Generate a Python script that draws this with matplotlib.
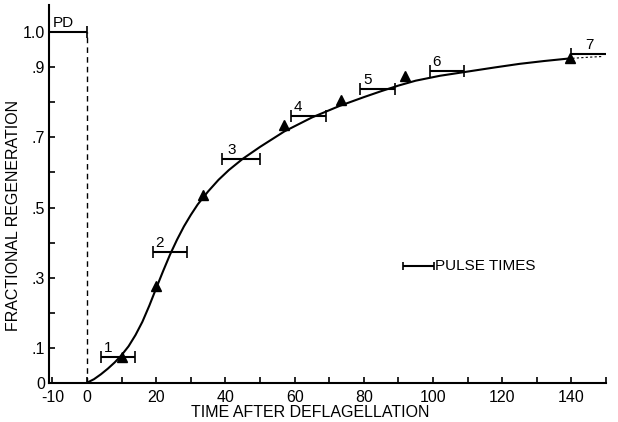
import matplotlib
matplotlib.use('Agg')
from matplotlib import pyplot as plt

plt.rcParams['font.family'] = ['Liberation Sans', 'DejaVu Sans']

# measured regeneration (triangles)
pt_time = [10, 20, 33.5, 57, 73.5, 92, 139.5]
pt_frac = [0.074, 0.276, 0.537, 0.736, 0.808, 0.874, 0.926]

# smooth curve
curve_time = [0, 2, 4, 6, 8, 10, 12, 14, 16, 18, 20, 22, 24, 26, 28, 30, 32, 35,
              38, 41, 45, 50, 57, 65, 73, 80, 85, 90, 95, 102, 110, 118, 125, 132, 139]
curve_frac = [0, 0.010, 0.024, 0.040, 0.058, 0.079, 0.104, 0.136, 0.174, 0.220, 0.270,
              0.319, 0.366, 0.408, 0.446, 0.479, 0.509, 0.546, 0.579, 0.607, 0.639,
              0.673, 0.717, 0.757, 0.790, 0.815, 0.832, 0.848, 0.862, 0.876, 0.888,
              0.900, 0.910, 0.918, 0.925]
extra_time = [139, 145, 149]
extra_frac = [0.925, 0.929, 0.931]

# pulse windows
pulse_labels = ['1', '2', '3', '4', '5', '6', '7']
pulse_start = [4, 19, 39, 59, 79, 99, 140]
pulse_end = [14, 29, 50, 69, 89, 109, 151]
pulse_frac = [0.072, 0.374, 0.639, 0.762, 0.838, 0.889, 0.938]
label_time = [6, 21, 41.7, 60.8, 81.2, 100.9, 145.3]

fig = plt.figure(figsize=(6.18, 4.22), dpi=100)
ax = fig.add_axes([49 / 618, (422 - 382.7) / 422, (606 - 49) / 618, (382.7 - 5) / 422])

ax.plot(curve_time, curve_frac, color='black', linewidth=1.5)
ax.plot(extra_time, extra_frac, color='black', linewidth=0.8, linestyle=(0, (2, 2)))
ax.plot(pt_time, pt_frac, linestyle='none', marker='^', markersize=7.5, color='black')

# pulse bars with end caps
for lab, s, e, f, lx in zip(pulse_labels, pulse_start, pulse_end, pulse_frac, label_time):
    ax.errorbar([(s + e) / 2], [f], xerr=[(e - s) / 2], fmt='none', ecolor='black',
                elinewidth=1.5, capsize=4, capthick=1.2)
    ax.text(lx, f + 0.006, lab, fontsize=11, ha='center', va='bottom')

# pre-deflagellation
ax.errorbar([-5.5], [1.0], xerr=[5.5], fmt='none', ecolor='black', elinewidth=1.5,
            capsize=4, capthick=1.2)
ax.text(-6.8, 1.006, 'PD', fontsize=11, ha='center', va='bottom')
ax.plot([0, 0], [0, 1.0], color='black', linewidth=1, linestyle=(0, (4, 3)))

# key
ax.errorbar([95.8], [0.332], xerr=[4.4], fmt='none', ecolor='black', elinewidth=1.5,
            capsize=3, capthick=1.2)
ax.text(100.6, 0.332, 'PULSE TIMES', fontsize=11, ha='left', va='center')

ax.set_xlim(-11, 149.7)
ax.set_ylim(0, 1.078)
ax.set_xticks(range(-10, 151, 10))
ax.set_xticklabels(['-10', '0', '', '20', '', '40', '', '60', '', '80', '', '100', '',
                    '120', '', '140', ''])
ax.set_yticks([i / 10 for i in range(11)])
ax.set_yticklabels(['0', '.1', '', '.3', '', '.5', '', '.7', '', '.9', '1.0'])
ax.tick_params(direction='in', length=4, width=1.2, labelsize=11.5)
ax.tick_params(axis='x', pad=5)
ax.tick_params(axis='y', pad=3)
ax.spines['top'].set_visible(False)
ax.spines['right'].set_visible(False)
ax.spines['left'].set_linewidth(1.5)
ax.spines['bottom'].set_linewidth(1.5)

ax.set_xlabel('TIME AFTER DEFLAGELLATION', fontsize=11.5)
ax.set_ylabel('FRACTIONAL REGENERATION', fontsize=11.5)
ax.xaxis.set_label_coords(0.469, -0.06)
ax.yaxis.set_label_coords(-0.05, 0.444)

fig.savefig('out.png', dpi=100)
